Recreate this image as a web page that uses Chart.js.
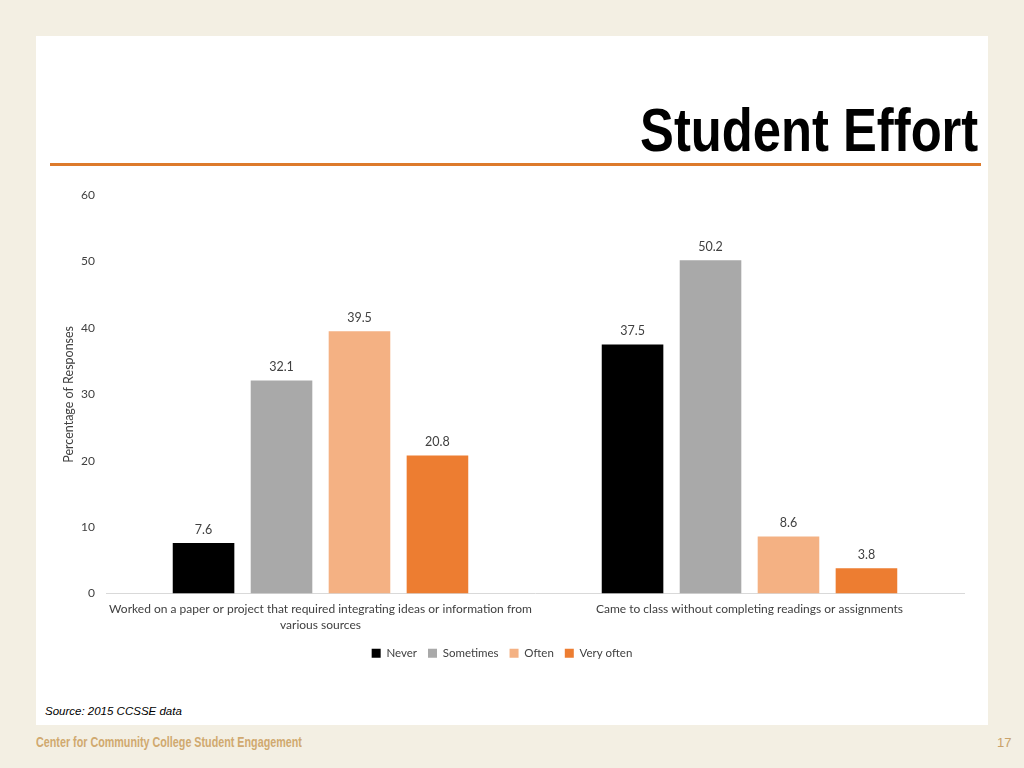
<!DOCTYPE html>
<html>
<head>
<meta charset="utf-8">
<script src="https://cdn.jsdelivr.net/npm/chart.js@4"></script>
<style>
  body { margin: 0; width: 1024px; height: 768px; background: #f3efe3; position: relative; overflow: hidden; font-family: "Liberation Sans", Arial, sans-serif; }
  .panel { position: absolute; left: 36px; top: 36px; width: 952px; height: 689px; background: #fff; }
  .title { position: absolute; top: 94px; right: 46px; font-family: "Liberation Sans Narrow", "Liberation Sans", Arial, sans-serif; font-weight: bold; font-size: 62px; color: #000; white-space: nowrap; transform-origin: right top; }
  .rule { position: absolute; left: 50px; top: 163px; width: 931px; height: 3px; background: #dd7a2b; }
  .source { position: absolute; left: 45px; top: 705px; font-style: italic; font-size: 11.5px; color: #000; }
  .footer { position: absolute; left: 36px; top: 733px; font-family: "Liberation Sans Narrow", "Liberation Sans", Arial, sans-serif; font-weight: bold; font-size: 15px; color: #d0a96f; white-space: nowrap; transform-origin: left top; }
  .page { position: absolute; left: 997px; top: 735px; font-size: 13px; color: #c9a26a; }
  #wrap { position: absolute; left: 40px; top: 177px; width: 940px; height: 500px; }
</style>
</head>
<body>
<div class="panel"></div>
<div class="title" id="title">Student Effort</div>
<div class="rule"></div>
<div class="source">Source: 2015 CCSSE data</div>
<div class="footer" id="footer">Center for Community College Student Engagement</div>
<div class="page">17</div>
<div id="wrap"><canvas id="chart"></canvas></div>
<script>
// squeeze condensed headings to the width they take on the slide
function fitWidth(id, w) {
  const el = document.getElementById(id);
  el.style.transform = "scaleX(" + (w / el.offsetWidth) + ")";
}
fitWidth("title", 338);
fitWidth("footer", 266);

const categories = [
  ["Worked on a paper or project that required integrating ideas or information from", "various sources"],
  "Came to class without completing readings or assignments",
];
const seriesNames = ["Never", "Sometimes", "Often", "Very often"];
const seriesColors = ["#000000", "#a9a9a9", "#f4b183", "#ed7d31"];
const never = [7.6, 37.5];
const sometimes = [32.1, 50.2];
const often = [39.5, 8.6];
const veryOften = [20.8, 3.8];
const yTicks = [0, 10, 20, 30, 40, 50, 60];

const FONT = "Lato, 'Open Sans', sans-serif";

const valueLabels = {
  id: "valueLabels",
  afterDatasetsDraw(chart) {
    const ctx = chart.ctx;
    ctx.save();
    ctx.font = "12.5px " + FONT;
    ctx.fillStyle = "#404040";
    ctx.textAlign = "center";
    ctx.textBaseline = "bottom";
    chart.data.datasets.forEach((ds, i) => {
      chart.getDatasetMeta(i).data.forEach((bar, j) => {
        ctx.fillText(ds.data[j].toFixed(1), bar.x, bar.y - 7);
      });
    });
    ctx.restore();
  },
};

new Chart(document.getElementById("chart"), {
  type: "bar",
  data: {
    labels: categories,
    datasets: [never, sometimes, often, veryOften].map((d, i) => ({
      label: seriesNames[i],
      data: d,
      backgroundColor: seriesColors[i],
      categoryPercentage: 0.727,
      barPercentage: 0.79,
    })),
  },
  options: {
    responsive: true,
    maintainAspectRatio: false,
    animation: false,
    layout: { padding: { top: 8, right: 16, bottom: 8, left: 0 } },
    plugins: {
      legend: {
        position: "bottom",
        labels: { boxWidth: 9, boxHeight: 9, padding: 11, color: "#404040", font: { family: FONT, size: 11.5 } },
      },
      tooltip: { enabled: false },
    },
    scales: {
      x: {
        grid: { display: false, drawTicks: false },
        border: { color: "#d9d9d9" },
        ticks: { color: "#404040", font: { family: FONT, size: 12, lineHeight: 1.33 }, maxRotation: 0, padding: 8 },
        afterFit(axis) { axis.height = 43; },
      },
      y: {
        min: 0,
        max: 60,
        afterBuildTicks(axis) { axis.ticks = yTicks.map((v) => ({ value: v })); },
        grid: { display: false, drawTicks: false },
        border: { display: false },
        ticks: { color: "#404040", font: { family: FONT, size: 12 }, padding: 11 },
        title: { display: true, text: "Percentage of Responses", color: "#404040", font: { family: FONT, size: 12.5 }, padding: { top: 21, bottom: 0 } },
        afterFit(axis) { axis.width = 66; },
      },
    },
  },
  plugins: [valueLabels],
});
</script>
</body>
</html>
